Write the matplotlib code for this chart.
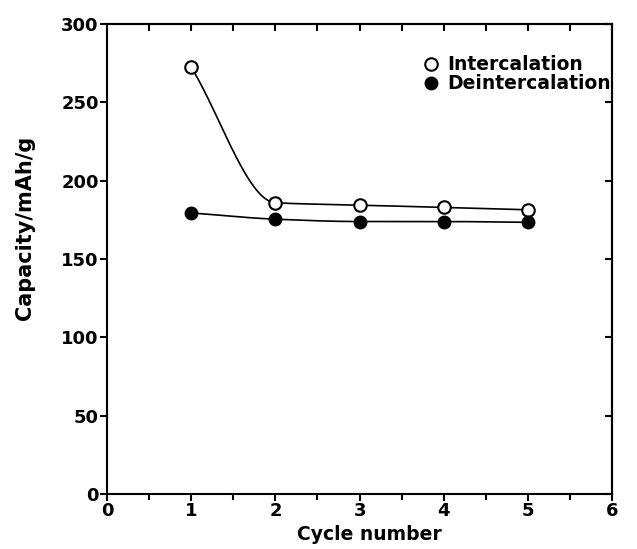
import numpy as np
import matplotlib
matplotlib.use('Agg')
import matplotlib.pyplot as plt
from matplotlib.ticker import MultipleLocator

cycles = [1, 2, 3, 4, 5]
intercalation = [272.5, 186, 184.5, 183, 181.5]
deintercalation = [179.5, 175.5, 174, 174, 173.5]


def pchip(x, y, xs):
    # monotone cubic hermite, just for drawing the smooth guide line
    x = np.asarray(x, float)
    y = np.asarray(y, float)
    h = np.diff(x)
    d = np.diff(y) / h
    m = np.zeros_like(y)
    for k in range(1, len(x) - 1):
        if d[k - 1] * d[k] > 0:
            w1 = 2 * h[k] + h[k - 1]
            w2 = h[k] + 2 * h[k - 1]
            m[k] = (w1 + w2) / (w1 / d[k - 1] + w2 / d[k])
    m[0] = d[0]
    m[-1] = d[-1]
    out = np.empty_like(xs)
    for i, xv in enumerate(xs):
        k = min(np.searchsorted(x, xv, side='right') - 1, len(x) - 2)
        t = (xv - x[k]) / h[k]
        h00 = 2 * t**3 - 3 * t**2 + 1
        h10 = t**3 - 2 * t**2 + t
        h01 = -2 * t**3 + 3 * t**2
        h11 = t**3 - t**2
        out[i] = h00 * y[k] + h10 * h[k] * m[k] + h01 * y[k + 1] + h11 * h[k] * m[k + 1]
    return out


plt.rcParams['font.family'] = ['DejaVu Sans']
fig = plt.figure(figsize=(6.37, 5.49), dpi=100)
ax = fig.add_axes([0.168, 0.100, 0.793, 0.856])

xs = np.linspace(cycles[0], cycles[-1], 300)
ax.plot(xs, pchip(cycles, intercalation, xs), color='black', lw=1.2)
ax.plot(xs, pchip(cycles, deintercalation, xs), color='black', lw=1.2)
ax.plot(cycles, intercalation, 'o', ms=9, mfc='white', mec='black', mew=1.5,
        label='Intercalation')
ax.plot(cycles, deintercalation, 'o', ms=9, mfc='black', mec='black',
        label='Deintercalation')

ax.set_xlim(0, 6)
ax.set_ylim(0, 300)
ax.xaxis.set_major_locator(MultipleLocator(1))
ax.xaxis.set_minor_locator(MultipleLocator(0.5))
ax.yaxis.set_major_locator(MultipleLocator(50))
ax.tick_params(axis='both', which='both', direction='out', width=1.5,
               labelsize=13, pad=1)
ax.tick_params(which='major', length=5)
ax.tick_params(which='minor', length=4)

# top and right ticks point inward
sec_x = ax.secondary_xaxis('top')
sec_x.xaxis.set_major_locator(MultipleLocator(0.5))
sec_x.tick_params(direction='in', length=5, width=1.5, labeltop=False)
sec_y = ax.secondary_yaxis('right')
sec_y.yaxis.set_major_locator(MultipleLocator(50))
sec_y.tick_params(direction='in', length=5, width=1.5, labelright=False)

for s in ax.spines.values():
    s.set_linewidth(1.5)
for s in list(sec_x.spines.values()) + list(sec_y.spines.values()):
    s.set_linewidth(1.5)

for lab in ax.get_xticklabels() + ax.get_yticklabels():
    lab.set_fontweight('bold')

ax.set_xlabel('Cycle number', fontsize=13.5, fontweight='bold')
ax.xaxis.set_label_coords(0.52, -0.066)
ax.set_ylabel('Capacity/mAh/g', fontsize=15, fontweight='bold')
ax.yaxis.set_label_coords(-0.143, 0.566)

ax.legend(loc='upper left', bbox_to_anchor=(0.615, 0.95), frameon=False,
          handlelength=0.6, handletextpad=0.6, borderaxespad=0,
          labelspacing=0.0, prop={'size': 13.5, 'weight': 'bold'})

fig.savefig('out.png', dpi=100)
